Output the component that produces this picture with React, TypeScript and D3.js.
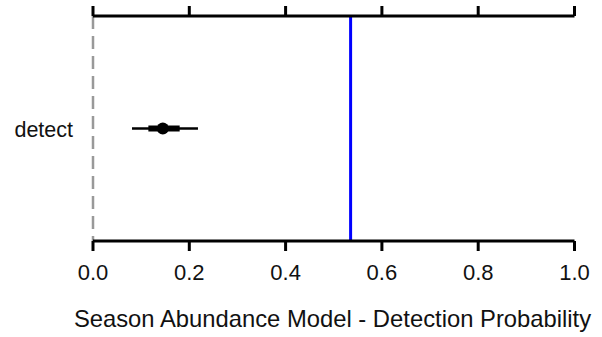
import React from "react";
import * as d3 from "d3";

const categories = ["detect"];
const estimates = [0.145];
const lower95 = [0.081];
const upper95 = [0.218];
const lower50 = [0.115];
const upper50 = [0.18];
const refLine = 0.535;
const zeroLine = 0;
const tickValues = [0, 0.2, 0.4, 0.6, 0.8, 1.0];
const xTitle = "Season Abundance Model - Detection Probability";

const W = 602;
const H = 337;
const left = 93;
const right = 574.5;
const top = 16;
const bottom = 241;

export default function App() {
  const x = d3.scaleLinear().domain([0, 1]).range([left, right]);
  const y = d3.scaleBand().domain(categories).range([top, bottom]).padding(0);
  const font = "Liberation Sans, Arial, sans-serif";
  return (
    <svg width={W} height={H} style={{ position: "absolute", left: 0, top: 0 }}>
      <rect width={W} height={H} fill="#fff" />
      <line x1={x(zeroLine)} x2={x(zeroLine)} y1={top} y2={bottom} stroke="#999" strokeWidth={2.5} strokeDasharray="13,7" />
      <line x1={x(refLine)} x2={x(refLine)} y1={top} y2={bottom} stroke="#0000ff" strokeWidth={3} />
      <line x1={x.range()[0]} x2={x.range()[1]} y1={top} y2={top} stroke="#000" strokeWidth={3} />
      <line x1={x.range()[0]} x2={x.range()[1]} y1={bottom} y2={bottom} stroke="#000" strokeWidth={3} />
      {tickValues.map((t) => (
        <g key={t}>
          <line x1={x(t)} x2={x(t)} y1={top} y2={top - 10} stroke="#000" strokeWidth={3} />
          <line x1={x(t)} x2={x(t)} y1={bottom} y2={bottom + 10} stroke="#000" strokeWidth={3} />
          <text x={x(t)} y={280} textAnchor="middle" fontFamily={font} fontSize={22} fill="#111">
            {d3.format(".1f")(t)}
          </text>
        </g>
      ))}
      {categories.map((c, i) => {
        const cy = (y(c) as number) + y.bandwidth() / 2;
        return (
          <g key={c}>
            <text x={73} y={cy + 8} textAnchor="end" fontFamily={font} fontSize={21.5} fill="#111">
              {c}
            </text>
            <line x1={x(lower95[i])} x2={x(upper95[i])} y1={cy} y2={cy} stroke="#000" strokeWidth={2.5} />
            <line x1={x(lower50[i])} x2={x(upper50[i])} y1={cy} y2={cy} stroke="#000" strokeWidth={6} />
            <circle cx={x(estimates[i])} cy={cy} r={6} fill="#000" />
          </g>
        );
      })}
      <text x={332.5} y={327} textAnchor="middle" fontFamily={font} fontSize={23.8} fill="#111">
        {xTitle}
      </text>
    </svg>
  );
}
